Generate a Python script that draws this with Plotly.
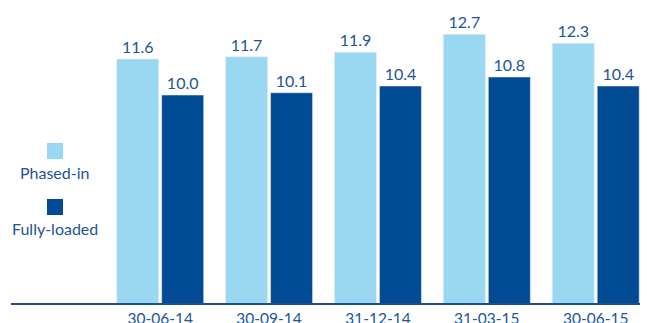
import plotly.graph_objects as go

categories = ["30-06-14", "30-09-14", "31-12-14", "31-03-15", "30-06-15"]
phased_in = [11.6, 11.7, 11.9, 12.7, 12.3]
fully_loaded = [10.0, 10.1, 10.4, 10.8, 10.4]
series_names = ["Phased-in", "Fully-loaded"]

LIGHT = "#9AD8F1"
DARK = "#004B93"
TEXT = "#1D5597"
FONT = "Lato"

# page body has an 8px margin; figure sized so it fills the 648x323 window
OFF = 8
W, H = 648 - OFF, 323 - OFF
# target plot area in window pixels: x 11..648, y 8..303
ML, MR, MT, MB = 11 - OFF, 0, 8 - OFF, 323 - 303
PW, PH = W - ML - MR, H - MT - MB

fig = go.Figure()
fig.add_trace(go.Bar(x=categories, y=phased_in, name=series_names[0], marker_color=LIGHT,
                     text=[f"{v:.1f}" for v in phased_in], textposition="outside",
                     textfont=dict(color=TEXT, size=16, family=FONT), cliponaxis=False))
fig.add_trace(go.Bar(x=categories, y=fully_loaded, name=series_names[1], marker_color=DARK,
                     text=[f"{v:.1f}" for v in fully_loaded], textposition="outside",
                     textfont=dict(color=TEXT, size=16, family=FONT), cliponaxis=False))

def px_x(p):
    return (p - OFF - ML) / PW

def px_y(p):
    return (OFF + MT + PH - p) / PH

shapes = [
    dict(type="rect", xref="paper", yref="paper", x0=px_x(47), x1=px_x(63), y0=px_y(159), y1=px_y(143),
         fillcolor=LIGHT, line_width=0),
    dict(type="rect", xref="paper", yref="paper", x0=px_x(47), x1=px_x(63), y0=px_y(215), y1=px_y(199),
         fillcolor=DARK, line_width=0),
]
annotations = [
    dict(xref="paper", yref="paper", x=px_x(55), y=px_y(172), text=series_names[0], showarrow=False,
         font=dict(color=TEXT, size=16, family=FONT), xanchor="center", yanchor="middle"),
    dict(xref="paper", yref="paper", x=px_x(55), y=px_y(228), text=series_names[1], showarrow=False,
         font=dict(color=TEXT, size=16, family=FONT), xanchor="center", yanchor="middle"),
]

fig.update_layout(
    width=W, height=H,
    margin=dict(l=ML, r=MR, t=MT, b=MB, autoexpand=False),
    paper_bgcolor="white", plot_bgcolor="white",
    barmode="group", bargap=0.174, bargroupgap=0.067,
    showlegend=False,
    shapes=shapes, annotations=annotations,
)
fig.update_xaxes(type="category", range=[-1.37, 4.48], showgrid=False, showline=True,
                 linecolor="#1F4E8A", linewidth=2, automargin=False,
                 ticks="", tickfont=dict(color=TEXT, size=15.5, family=FONT), fixedrange=True)
fig.update_yaxes(range=[0.756, 13.87], visible=False, showgrid=False, zeroline=False, automargin=False)

fig.write_html("out.html")
